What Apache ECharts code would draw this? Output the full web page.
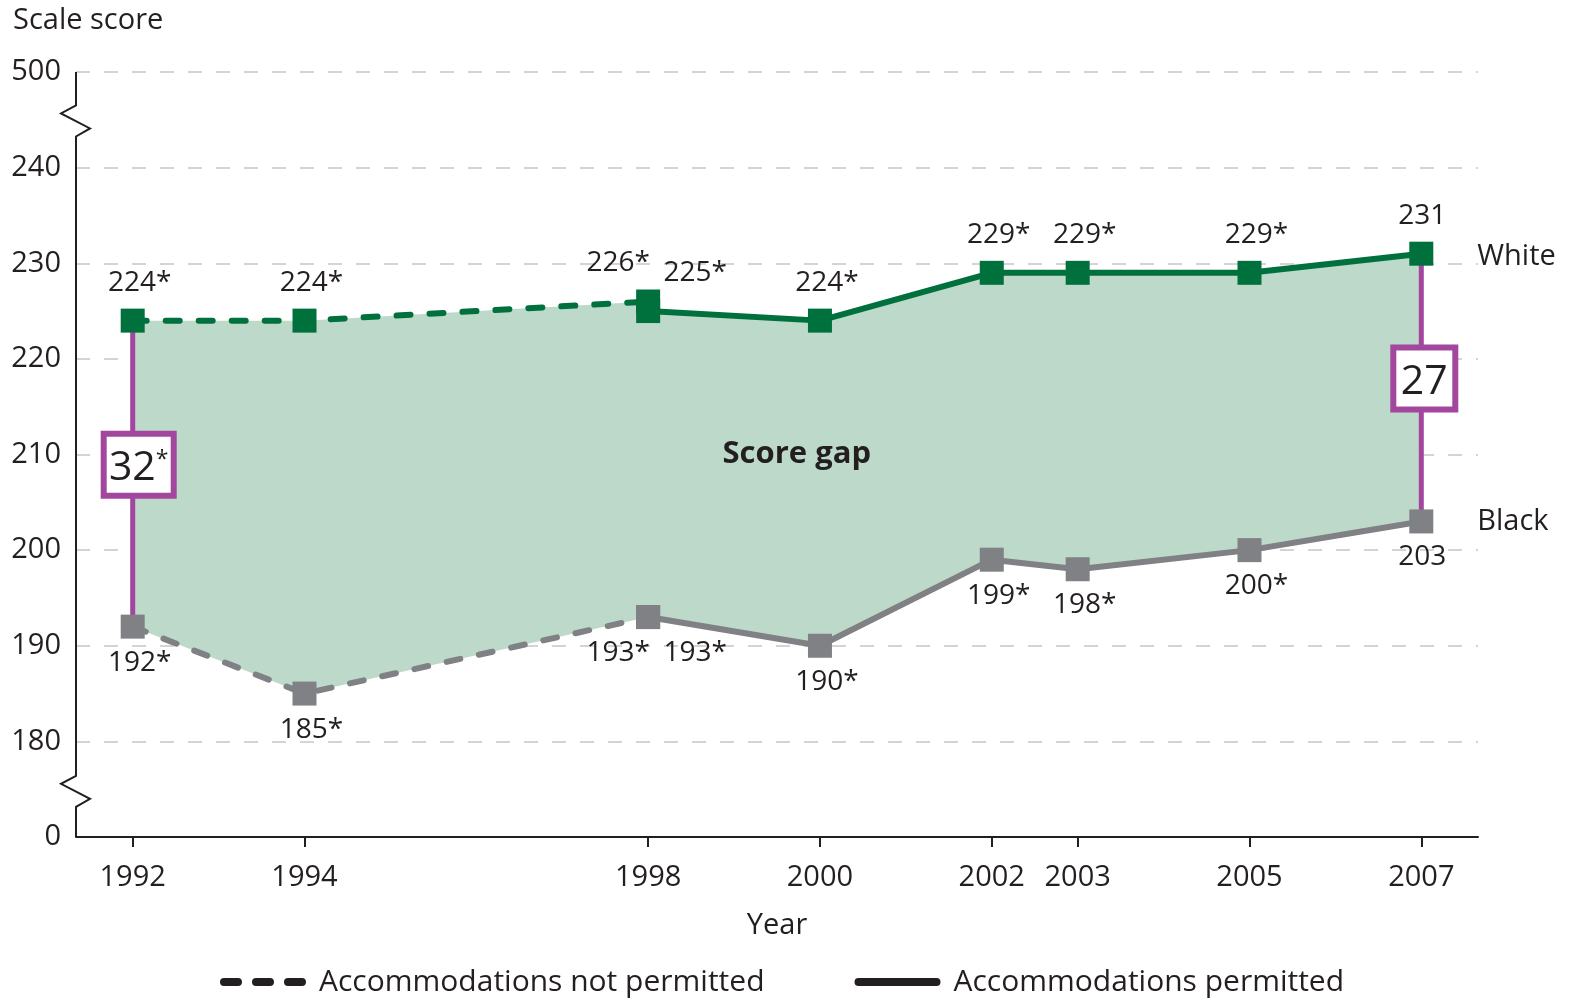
<!DOCTYPE html>
<html>
<head>
<meta charset="utf-8">
<script src="https://cdn.jsdelivr.net/npm/echarts@6/dist/echarts.min.js"></script>
<style>
html, body { margin: 0; padding: 0; background: #fff; }
#chart { width: 1577px; height: 1004px; }
</style>
</head>
<body>
<div id="chart"></div>
<script>
// years shown on the x axis
var years = [1992, 1994, 1998, 2000, 2002, 2003, 2005, 2007];
// accommodations not permitted
var npYears = [1992, 1994, 1998];
var whiteNP = [224, 224, 226];
var blackNP = [192, 185, 193];
var whiteNPLabels = ['224*', '224*', '226*'];
var blackNPLabels = ['192*', '185*', '193*'];
// accommodations permitted
var pYears = [1998, 2000, 2002, 2003, 2005, 2007];
var whiteP = [225, 224, 229, 229, 229, 231];
var blackP = [193, 190, 199, 198, 200, 203];
var whitePLabels = ['225*', '224*', '229*', '229*', '229*', '231'];
var blackPLabels = ['193*', '190*', '199*', '198*', '200*', '203'];
// score gap boxes
var gapYears = [1992, 2007];
var gapTop = [224, 231];
var gapBottom = [192, 203];
var gapLabels = ['{n|32}{s|*}', '{n|27}'];
var gapTitle = [1999.73, 210];
// y axis is broken: 170 stands for 0, 250 stands for 500
var yTicks = [170, 180, 190, 200, 210, 220, 230, 240, 250];
var yTickLabels = ['0', '180', '190', '200', '210', '220', '230', '240', '500'];

var FONT = 'Open Sans';
var INK = '#231f20';
var GREEN = '#00703c';
var GREY = '#808184';
var PURPLE = '#a3479e';
var FILL = '#bdd9c9';
var xMin = 1991.34, xMax = 2007.66;

// legend keys (rounded dashes / solid bar, blank tail for text gap)
var DASH_ICON = 'path://M4,0h14a4,4 0 0 1 0,8h-14a4,4 0 0 1 0,-8Z' +
  'M36,0h14a4,4 0 0 1 0,8h-14a4,4 0 0 1 0,-8Z' +
  'M68,0h14a4,4 0 0 1 0,8h-14a4,4 0 0 1 0,-8Z' +
  'M94,0h0.01v8h-0.01Z';
var SOLID_ICON = 'path://M4,0h78a4,4 0 0 1 0,8h-78a4,4 0 0 1 0,-8Z' +
  'M94,0h0.01v8h-0.01Z';

var chart = echarts.init(document.getElementById('chart'));

// labels: asterisk pushes text right a bit; 1998 pair gets split left/right
function lab(text, pos, year, first) {
  var dx = text.indexOf('*') >= 0 ? 7 : 1;
  if (year === 1998) dx = first ? -30 : 47;
  return {
    show: true, position: pos, distance: pos === 'top' ? 12 : 10,
    offset: [dx, 0], formatter: text,
    fontFamily: FONT, fontSize: 28, color: INK
  };
}

function pts(ys, vals, labels, pos, first) {
  return ys.map(function (y, i) {
    return { value: [y, vals[i]], label: lab(labels[i], pos, y, first) };
  });
}

function lineSeries(name, data, color, dashed, endText) {
  var s = {
    type: 'line', name: name, data: data, z: 3,
    symbol: 'rect', symbolSize: 24,
    itemStyle: { color: color },
    lineStyle: { color: color, width: 6, type: dashed ? [14, 19] : 'solid', cap: 'round' },
    animation: false
  };
  if (endText) {
    s.endLabel = { show: true, formatter: endText, distance: 56, offset: [0, endText === 'White' ? 3 : 0],
      fontFamily: FONT, fontSize: 29, color: INK };
  }
  return s;
}

chart.setOption({
  animation: false,
  title: {
    text: 'Scale score', left: 8, top: 1,
    textStyle: { fontFamily: FONT, fontSize: 29, fontWeight: 'normal', color: INK }
  },
  grid: { left: 76, right: 99, top: 72, bottom: 167 },
  legend: {
    bottom: 2, left: 215, itemWidth: 94, itemHeight: 8, itemGap: 90,
    textStyle: { fontFamily: FONT, fontSize: 30, color: INK },
    data: [
      { name: 'Accommodations not permitted', icon: DASH_ICON },
      { name: 'Accommodations permitted', icon: SOLID_ICON }
    ]
  },
  xAxis: {
    type: 'value', min: xMin, max: xMax,
    name: 'Year', nameLocation: 'middle', nameGap: 74,
    nameTextStyle: { fontFamily: FONT, fontSize: 29, color: INK },
    axisLine: { lineStyle: { color: INK, width: 2 } },
    axisTick: { customValues: years, length: 10, lineStyle: { color: INK, width: 2 } },
    axisLabel: { customValues: years, margin: 26, formatter: String,
      fontFamily: FONT, fontSize: 29, color: INK },
    splitLine: { show: false }
  },
  yAxis: {
    type: 'value', min: 170, max: 250, interval: 10,
    axisLine: { show: false },
    axisTick: { show: false },
    axisLabel: {
      margin: 15, fontFamily: FONT, fontSize: 29, color: INK,
      formatter: function (v) { return yTickLabels[yTicks.indexOf(v)]; }
    },
    splitLine: { lineStyle: { color: '#d4d4d4', width: 2, type: [14, 14] } }
  },
  series: [
    {
      type: 'custom', z: 1, silent: true, data: [0],
      renderItem: function (params, api) {
        var p = [];
        npYears.forEach(function (y, i) { p.push(api.coord([y, whiteNP[i]])); });
        pYears.forEach(function (y, i) { p.push(api.coord([y, whiteP[i]])); });
        for (var i = pYears.length - 1; i >= 0; i--) p.push(api.coord([pYears[i], blackP[i]]));
        for (var j = npYears.length - 1; j >= 0; j--) p.push(api.coord([npYears[j], blackNP[j]]));
        return { type: 'polygon', shape: { points: p }, style: { fill: FILL } };
      }
    },
    {
      type: 'custom', z: 2, silent: true,
      data: gapYears.map(function (y, i) { return [y, gapTop[i], gapBottom[i]]; }),
      renderItem: function (params, api) {
        var a = api.coord([api.value(0), api.value(1)]);
        var b = api.coord([api.value(0), api.value(2)]);
        return { type: 'line', shape: { x1: a[0], y1: a[1], x2: b[0], y2: b[1] },
          style: { stroke: PURPLE, lineWidth: 5 } };
      }
    },
    { type: 'line', name: 'Accommodations not permitted', data: [], itemStyle: { color: INK } },
    { type: 'line', name: 'Accommodations permitted', data: [], itemStyle: { color: INK } },
    lineSeries('wnp', pts(npYears, whiteNP, whiteNPLabels, 'top', true), GREEN, true),
    lineSeries('bnp', pts(npYears, blackNP, blackNPLabels, 'bottom', true), GREY, true),
    lineSeries('wp', pts(pYears, whiteP, whitePLabels, 'top', false), GREEN, false, 'White'),
    lineSeries('bp', pts(pYears, blackP, blackPLabels, 'bottom', false), GREY, false, 'Black'),
    {
      type: 'scatter', z: 5, symbolSize: 0, silent: true,
      itemStyle: { opacity: 1 },
      data: gapYears.map(function (y, i) {
        return {
          value: [y, (gapTop[i] + gapBottom[i]) / 2],
          label: {
            show: true, position: 'inside', formatter: gapLabels[i],
            offset: [i === 0 ? 6 : 3, -9],
            backgroundColor: '#fff', borderColor: PURPLE, borderWidth: 6,
            width: i === 0 ? 64 : 56, height: 56, align: 'center', verticalAlign: 'middle',
            rich: {
              n: { fontFamily: FONT, fontSize: 41, color: INK, lineHeight: 64, verticalAlign: 'middle' },
              s: { fontFamily: FONT, fontSize: 23, color: INK, lineHeight: 23,
                padding: [0, 0, 16, 0], verticalAlign: 'middle' }
            }
          }
        };
      })
    },
    {
      type: 'scatter', z: 5, symbolSize: 0, silent: true,
      itemStyle: { opacity: 1 },
      data: [gapTitle],
      label: { show: true, position: 'inside', formatter: 'Score gap',
        fontFamily: FONT, fontSize: 31, fontWeight: 'bold', color: INK }
    }
  ]
});

// y axis line with two break marks
var pTop = chart.convertToPixel({ gridIndex: 0 }, [xMin, 250]);
var pBot = chart.convertToPixel({ gridIndex: 0 }, [xMin, 170]);
var b1 = chart.convertToPixel({ gridIndex: 0 }, [xMin, 246.5])[1];
var b2 = chart.convertToPixel({ gridIndex: 0 }, [xMin, 176.4])[1];
var x0 = pTop[0];
function zig(y) { return [[x0, y], [x0 - 15, y + 8], [x0 + 14, y + 23], [x0, y + 31]]; }
var axisPts = [[x0, pTop[1]]].concat(zig(b1), zig(b2), [[x0, pBot[1]]]);
chart.setOption({
  graphic: [{
    type: 'polyline', z: 10, silent: true,
    shape: { points: axisPts },
    style: { stroke: INK, lineWidth: 2, fill: null }
  }]
});
</script>
</body>
</html>
